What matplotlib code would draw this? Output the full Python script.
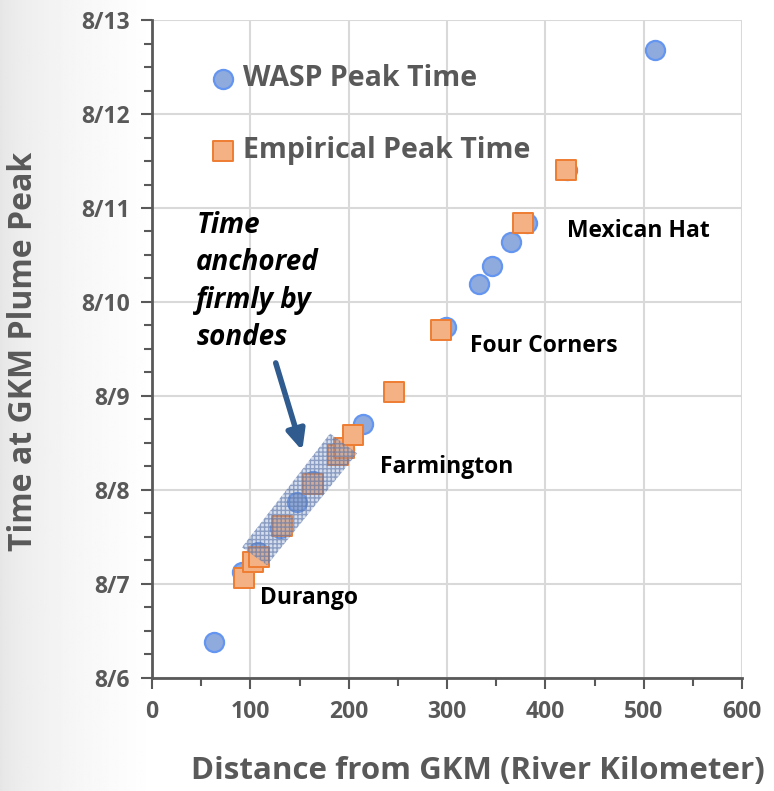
"""
Gold King Mine plume: peak arrival time vs. river distance.
Run: python plot.py
"""

import matplotlib.pyplot as plt
import matplotlib.dates as mdates
import numpy as np
import pandas as pd
from matplotlib.patches import Polygon

# distance from GKM (km) and peak time as fractional day-of-August
wasp_km = [63, 92, 108, 130, 147, 164, 195, 215, 299, 333, 346, 365, 381, 422, 511]
wasp_day = [6.38, 7.13, 7.34, 7.60, 7.87, 8.10, 8.44, 8.70, 9.73, 10.19, 10.38, 10.64, 10.84, 11.40, 12.68]

emp_km = [94, 103, 109, 132, 164, 189, 195, 204, 246, 294, 377, 421]
emp_day = [7.06, 7.23, 7.29, 7.62, 8.06, 8.37, 8.45, 8.58, 9.04, 9.70, 10.84, 11.40]

# shaded "sonde" band corners (km, day)
band_km = [91.5, 181, 208.5, 117]
band_day = [7.39, 8.60, 8.39, 7.20]

sites = ["Durango", "Farmington", "Four Corners", "Mexican Hat"]
site_km = [110, 232, 323, 422]
site_day = [6.85, 8.24, 9.53, 10.76]

GRAY = "#595959"
FONT = "Open Sans"


def to_time(days):
    base = pd.Timestamp("2015-08-01")
    return [base + pd.to_timedelta(d - 1, unit="D") for d in days]


def tnum(day):
    return mdates.date2num(to_time([day])[0])


fig = plt.figure(figsize=(7.74, 7.91), dpi=100)

# soft gray fade on the left edge of the slide
bg = fig.add_axes([0, 0, 1, 1], zorder=-10)
grad = np.linspace(0, 1, 400)
fade = 0.90 + 0.10 * np.clip(grad / 0.2, 0, 1) ** 0.6
bg.imshow(np.tile(fade, (10, 1)), cmap="gray", vmin=0, vmax=1, aspect="auto",
          extent=[0, 1, 0, 1])
bg.axis("off")

ax = fig.add_axes([0.1964, 0.1429, 0.7623, 0.8318])
ax.patch.set_alpha(0)

ax.scatter(wasp_km, to_time(wasp_day), s=190, marker="o", color="#8faadc",
           edgecolor="#6495f0", linewidth=1.6, zorder=3, label="WASP Peak Time")
ax.scatter(emp_km, to_time(emp_day), s=210, marker="s", color="#f4b183",
           edgecolor="#ed7d31", linewidth=1.4, zorder=4, label="Empirical Peak Time")

band_xy = np.column_stack([band_km, mdates.date2num(to_time(band_day))])
ax.add_patch(Polygon(band_xy, closed=True, facecolor=(0.55, 0.64, 0.80, 0.35),
                     edgecolor=(0.35, 0.45, 0.65, 0.6), hatch="++++", linewidth=0,
                     zorder=5))

ax.annotate("", xy=(153.6, tnum(8.39)), xytext=(125, tnum(9.38)),
            arrowprops=dict(arrowstyle="-|>,head_length=1.2,head_width=0.55",
                            color="#2f5b8f", lw=4), zorder=6)

ax.text(45, tnum(10.97), "Time\nanchored\nfirmly by\nsondes", fontsize=20,
        family=FONT, fontweight="bold", fontstyle="italic", va="top",
        linespacing=1.38, color="black")

for name, xk, yd in zip(sites, site_km, site_day):
    ax.text(xk, tnum(yd), name, fontsize=16.5, family=FONT,
            fontweight="bold", va="center", color="black")

ax.set_xlim(0, 600)
ax.set_ylim(to_time([6])[0], to_time([13])[0])
ax.xaxis.set_major_locator(plt.MultipleLocator(100))
ax.xaxis.set_minor_locator(plt.MultipleLocator(50))
ax.yaxis.set_major_locator(mdates.DayLocator())
ax.yaxis.set_minor_locator(mdates.HourLocator(byhour=[6, 12, 18]))
ax.yaxis.set_major_formatter(mdates.DateFormatter("%-m/%-d"))

ax.grid(True, which="major", color="#d9d9d9", linewidth=1.5, zorder=0)
ax.set_axisbelow(True)
for side in ["top", "right"]:
    ax.spines[side].set_visible(False)
for side in ["left", "bottom"]:
    ax.spines[side].set_color(GRAY)
    ax.spines[side].set_linewidth(2)
ax.tick_params(which="both", direction="out", color=GRAY, width=1.5)
ax.tick_params(which="major", length=8, pad=8, labelsize=16.5, labelcolor=GRAY)
ax.tick_params(which="minor", length=6)
for lab in ax.get_xticklabels() + ax.get_yticklabels():
    lab.set_family(FONT)
    lab.set_fontweight("bold")

ax.set_xlabel("Distance from GKM (River Kilometer)", fontsize=22.5, family=FONT,
              fontweight="bold", color=GRAY)
ax.xaxis.set_label_coords(0.552, -0.118)
ax.set_ylabel("Time at GKM Plume Peak", fontsize=23, family=FONT,
              fontweight="bold", color=GRAY)
ax.yaxis.set_label_coords(-0.19, 0.497)

leg = ax.legend(loc="upper left", bbox_to_anchor=(0.062, 0.963), frameon=False,
                labelspacing=1.5, handlelength=1.0, handletextpad=0.2,
                borderpad=0.2, prop={"family": FONT, "weight": "bold", "size": 20.5})
for t in leg.get_texts():
    t.set_color(GRAY)

fig.savefig("out.png", dpi=100)
